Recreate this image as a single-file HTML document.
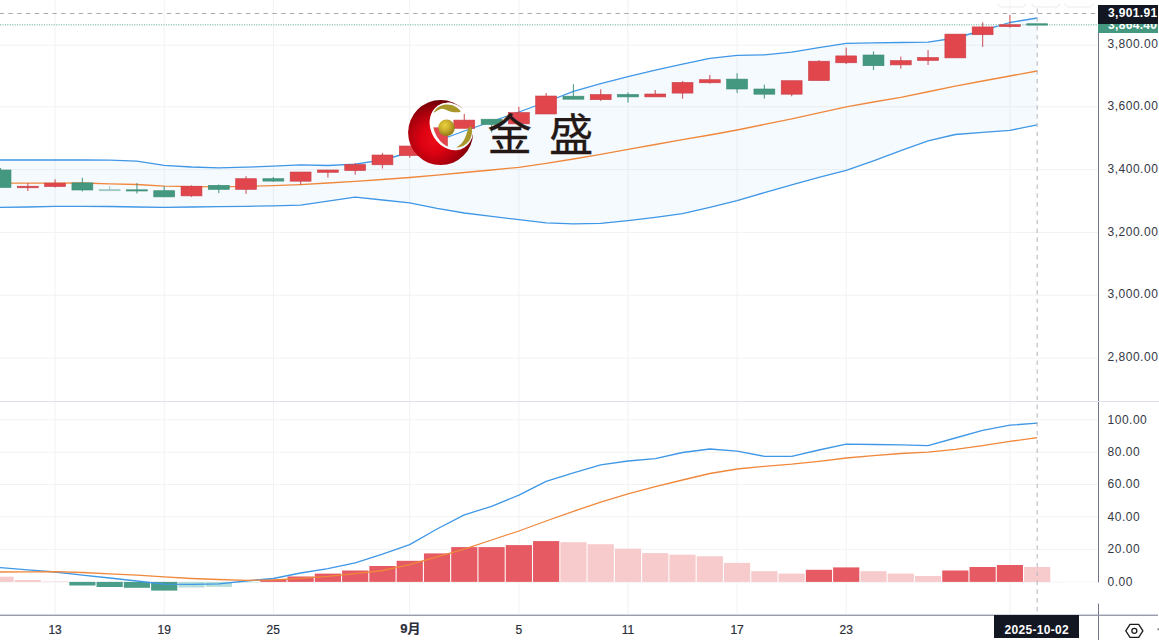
<!DOCTYPE html>
<html lang="zh-CN"><head><meta charset="utf-8"><title>chart</title>
<style>
html,body{margin:0;padding:0;background:#fff;}
body{width:1159px;height:640px;position:relative;overflow:hidden;font-family:"Liberation Sans","Noto Sans CJK SC",sans-serif;color:#131722;}
.pl{position:absolute;left:1107.6px;font-size:12px;letter-spacing:0.5px;line-height:14px;height:14px;white-space:nowrap;color:#343844;}
.tl{-webkit-text-stroke:0.2px #2a2e39;position:absolute;top:622.7px;width:60px;margin-left:-30px;text-align:center;font-size:12px;line-height:14px;white-space:nowrap;color:#2a2e39;}
.tag{position:absolute;color:#fff;font-weight:bold;white-space:nowrap;}
.wm{position:absolute;left:487.4px;top:100.5px;font-family:"Noto Sans CJK SC","Liberation Sans",sans-serif;font-size:44.3px;line-height:62px;color:#231815;letter-spacing:17.4px;white-space:nowrap;-webkit-text-stroke:0.3px #231815;}
</style></head><body>
<svg width="1159" height="640" viewBox="0 0 1159 640" style="position:absolute;left:0;top:0">
<defs>
<radialGradient id="rg" cx="0.4" cy="0.6" r="0.6"><stop offset="0" stop-color="#ec0c18"/><stop offset="0.35" stop-color="#dc0212"/><stop offset="0.7" stop-color="#aa000d"/><stop offset="1" stop-color="#6e0006"/></radialGradient>
<radialGradient id="gg" cx="0.4" cy="0.35" r="0.65"><stop offset="0" stop-color="#ead23c"/><stop offset="0.5" stop-color="#c9ad2c"/><stop offset="1" stop-color="#8f7a1a"/></radialGradient>
<clipPath id="mainclip"><rect x="0" y="0" width="1098" height="401"/></clipPath>
<clipPath id="subclip"><rect x="0" y="402" width="1098" height="212"/></clipPath>
<mask id="cres"><rect x="380" y="80" width="120" height="110" fill="#fff"/><ellipse cx="451.56" cy="126.39" rx="20.47" ry="24.63" transform="rotate(-31.5 451.56 126.39)" fill="#000"/><polygon points="461.8,106.6 470,95 490,100 490,140 473.6,133.5" fill="#000"/></mask>
</defs>
<rect x="54.6" y="0" width="1" height="614" fill="#f2f2f3"/>
<rect x="163.7" y="0" width="1" height="614" fill="#f2f2f3"/>
<rect x="272.8" y="0" width="1" height="614" fill="#f2f2f3"/>
<rect x="409.2" y="0" width="1" height="614" fill="#f2f2f3"/>
<rect x="518.4" y="0" width="1" height="614" fill="#f2f2f3"/>
<rect x="627.5" y="0" width="1" height="614" fill="#f2f2f3"/>
<rect x="736.6" y="0" width="1" height="614" fill="#f2f2f3"/>
<rect x="845.7" y="0" width="1" height="614" fill="#f2f2f3"/>
<rect x="1009.5" y="0" width="1" height="614" fill="#f2f2f3"/>
<rect x="0" y="44.7" width="1098" height="1" fill="#f2f2f3"/>
<rect x="0" y="106.3" width="1098" height="1" fill="#f2f2f3"/>
<rect x="0" y="169.1" width="1098" height="1" fill="#f2f2f3"/>
<rect x="0" y="231.9" width="1098" height="1" fill="#f2f2f3"/>
<rect x="0" y="294.7" width="1098" height="1" fill="#f2f2f3"/>
<rect x="0" y="357.6" width="1098" height="1" fill="#f2f2f3"/>
<rect x="0" y="419.3" width="1098" height="1" fill="#f2f2f3"/>
<rect x="0" y="451.7" width="1098" height="1" fill="#f2f2f3"/>
<rect x="0" y="484.0" width="1098" height="1" fill="#f2f2f3"/>
<rect x="0" y="516.3" width="1098" height="1" fill="#f2f2f3"/>
<rect x="0" y="548.8" width="1098" height="1" fill="#f2f2f3"/>
<rect x="0" y="581.7" width="1098" height="1" fill="#f2f2f3"/>
<path d="M998 3.5 Q998 7 1002.5 7 L1021 7 Q1025.5 7 1025.5 3.5" fill="none" stroke="#e9ebf0" stroke-width="1"/>
<path d="M1032 3.5 Q1032 7 1036.5 7 L1055 7 Q1059.5 7 1059.5 3.5" fill="none" stroke="#e9ebf0" stroke-width="1"/>
<path d="M1065.3 3.5 Q1065.3 7 1069.8 7 L1088.3 7 Q1092.8 7 1092.8 3.5" fill="none" stroke="#e9ebf0" stroke-width="1"/>
<g clip-path="url(#mainclip)">
<polygon points="-27.0,160 0.5,160 27.8,160 55.1,160 82.4,160 109.7,160.2 136.9,161.2 164.2,165.3 191.5,167 218.8,167.9 246.1,167.2 273.3,166.2 300.6,164.8 327.9,165.5 355.2,164.2 382.5,160 409.7,152.5 437.0,141 464.3,131 491.6,121.5 518.9,112 546.1,102 573.4,91.4 600.7,83.6 628.0,76.7 655.3,70.2 682.5,64.2 709.8,58.3 737.1,55.4 764.4,54.8 791.7,52.1 818.9,47.7 846.2,43.3 873.5,42.9 900.8,42.5 928.1,42.2 955.3,38 982.6,30.5 1009.9,22.5 1037.2,18 1037.2,124.9 1009.9,130.4 982.6,132.3 955.3,134.5 928.1,140.9 900.8,150.6 873.5,160.8 846.2,170.4 818.9,177.3 791.7,184.8 764.4,192.6 737.1,200.6 709.8,207.3 682.5,213.7 655.3,217.4 628.0,220.6 600.7,223.3 573.4,223.9 546.1,222.8 518.9,219.7 491.6,216.3 464.3,213 437.0,208.4 409.7,202.8 382.5,200 355.2,197.2 327.9,201.2 300.6,205.1 273.3,205.8 246.1,206.3 218.8,206.6 191.5,207 164.2,207.4 136.9,207 109.7,206.5 82.4,206.3 55.1,206.3 27.8,207 0.5,207.4 -27.0,207.4" fill="#2196f3" fill-opacity="0.048"/>
<polyline points="-27,160 0.5,160 27.8,160 55.1,160 82.4,160 109.7,160.2 136.9,161.2 164.2,165.3 191.5,167 218.8,167.9 246.1,167.2 273.3,166.2 300.6,164.8 327.9,165.5 355.2,164.2 382.5,160 409.7,152.5 437.0,141 464.3,131 491.6,121.5 518.9,112 546.1,102 573.4,91.4 600.7,83.6 628.0,76.7 655.3,70.2 682.5,64.2 709.8,58.3 737.1,55.4 764.4,54.8 791.7,52.1 818.9,47.7 846.2,43.3 873.5,42.9 900.8,42.5 928.1,42.2 955.3,38 982.6,30.5 1009.9,22.5 1037.2,18" fill="none" stroke="#3f97e6" stroke-width="1.3" stroke-linejoin="round"/>
<polyline points="-27,207.4 0.5,207.4 27.8,207 55.1,206.3 82.4,206.3 109.7,206.5 136.9,207 164.2,207.4 191.5,207 218.8,206.6 246.1,206.3 273.3,205.8 300.6,205.1 327.9,201.2 355.2,197.2 382.5,200 409.7,202.8 437.0,208.4 464.3,213 491.6,216.3 518.9,219.7 546.1,222.8 573.4,223.9 600.7,223.3 628.0,220.6 655.3,217.4 682.5,213.7 709.8,207.3 737.1,200.6 764.4,192.6 791.7,184.8 818.9,177.3 846.2,170.4 873.5,160.8 900.8,150.6 928.1,140.9 955.3,134.5 982.6,132.3 1009.9,130.4 1037.2,124.9" fill="none" stroke="#3f97e6" stroke-width="1.3" stroke-linejoin="round"/>
<polyline points="-27,183.1 0.5,183.1 27.8,183.1 55.1,183.1 82.4,183 109.7,183.8 136.9,184.5 164.2,186.2 191.5,186.7 218.8,186.9 246.1,186.4 273.3,185.6 300.6,184.6 327.9,183 355.2,181.3 382.5,179.5 409.7,177.5 437.0,175.2 464.3,172.5 491.6,170 518.9,167.3 546.1,163.4 573.4,159 600.7,154.3 628.0,149.3 655.3,144.5 682.5,139.7 709.8,135 737.1,130 764.4,124.4 791.7,118.8 818.9,112.8 846.2,106.8 873.5,102 900.8,97.3 928.1,91.75 955.3,86.2 982.6,81 1009.9,76 1037.2,71" fill="none" stroke="#f0883c" stroke-width="1.3" stroke-linejoin="round"/>
<line x1="0" y1="24.8" x2="1098" y2="24.8" stroke="#98c8bb" stroke-width="1.6" stroke-dasharray="1.1 1.34"/>
<g>
<rect x="-0.06" y="168" width="1.2" height="19.50" fill="#3b8d76" opacity="0.8"/>
<rect x="-9.91" y="170" width="20.9" height="17.50" fill="#44987f" stroke="#3b8d76" stroke-width="0.6"/>
</g>
<g>
<rect x="27.22" y="183.1" width="1.2" height="7.90" fill="#c8414a" opacity="0.8"/>
<rect x="17.37" y="186.2" width="20.9" height="1.60" fill="#e0464b" stroke="#c8414a" stroke-width="0.6"/>
</g>
<g>
<rect x="54.50" y="179.3" width="1.2" height="8.20" fill="#c8414a" opacity="0.8"/>
<rect x="44.65" y="183.1" width="20.9" height="3.50" fill="#e0464b" stroke="#c8414a" stroke-width="0.6"/>
</g>
<g>
<rect x="81.78" y="177.9" width="1.2" height="13.50" fill="#3b8d76" opacity="0.8"/>
<rect x="71.93" y="182.9" width="20.9" height="7.10" fill="#44987f" stroke="#3b8d76" stroke-width="0.6"/>
</g>
<g opacity="0.5">
<rect x="109.06" y="186.2" width="1.2" height="4.80" fill="#3b8d76" opacity="0.8"/>
<rect x="99.21" y="189.6" width="20.9" height="1.20" fill="#44987f" stroke="#3b8d76" stroke-width="0.6"/>
</g>
<g>
<rect x="136.34" y="183.1" width="1.2" height="10.40" fill="#3b8d76" opacity="0.8"/>
<rect x="126.49" y="189.8" width="20.9" height="1.20" fill="#44987f" stroke="#3b8d76" stroke-width="0.6"/>
</g>
<g>
<rect x="163.62" y="186.2" width="1.2" height="10.70" fill="#3b8d76" opacity="0.8"/>
<rect x="153.77" y="190.7" width="20.9" height="6.20" fill="#44987f" stroke="#3b8d76" stroke-width="0.6"/>
</g>
<g>
<rect x="190.90" y="185.3" width="1.2" height="11.60" fill="#c8414a" opacity="0.8"/>
<rect x="181.05" y="186.2" width="20.9" height="9.70" fill="#e0464b" stroke="#c8414a" stroke-width="0.6"/>
</g>
<g>
<rect x="218.18" y="184.5" width="1.2" height="8.60" fill="#3b8d76" opacity="0.8"/>
<rect x="208.33" y="185.3" width="20.9" height="4.10" fill="#44987f" stroke="#3b8d76" stroke-width="0.6"/>
</g>
<g>
<rect x="245.46" y="176.2" width="1.2" height="17.60" fill="#c8414a" opacity="0.8"/>
<rect x="235.61" y="178.7" width="20.9" height="10.70" fill="#e0464b" stroke="#c8414a" stroke-width="0.6"/>
</g>
<g>
<rect x="272.74" y="177" width="1.2" height="4.70" fill="#3b8d76" opacity="0.8"/>
<rect x="262.89" y="178.7" width="20.9" height="2.40" fill="#44987f" stroke="#3b8d76" stroke-width="0.6"/>
</g>
<g>
<rect x="300.02" y="172" width="1.2" height="12.60" fill="#c8414a" opacity="0.8"/>
<rect x="290.17" y="172" width="20.9" height="9.20" fill="#e0464b" stroke="#c8414a" stroke-width="0.6"/>
</g>
<g>
<rect x="327.30" y="170" width="1.2" height="7.50" fill="#c8414a" opacity="0.8"/>
<rect x="317.45" y="170" width="20.9" height="2.30" fill="#e0464b" stroke="#c8414a" stroke-width="0.6"/>
</g>
<g>
<rect x="354.58" y="162.9" width="1.2" height="11.80" fill="#c8414a" opacity="0.8"/>
<rect x="344.73" y="164.4" width="20.9" height="6.20" fill="#e0464b" stroke="#c8414a" stroke-width="0.6"/>
</g>
<g>
<rect x="381.86" y="152.8" width="1.2" height="15.70" fill="#c8414a" opacity="0.8"/>
<rect x="372.01" y="155" width="20.9" height="9.80" fill="#e0464b" stroke="#c8414a" stroke-width="0.6"/>
</g>
<g>
<rect x="409.14" y="146" width="1.2" height="11.80" fill="#c8414a" opacity="0.8"/>
<rect x="399.29" y="146" width="20.9" height="9.60" fill="#e0464b" stroke="#c8414a" stroke-width="0.6"/>
</g>
<g>
<rect x="426.57" y="127.8" width="20.9" height="18.40" fill="#e0464b" stroke="#c8414a" stroke-width="0.6"/>
</g>
<g>
<rect x="463.70" y="113.9" width="1.2" height="14.40" fill="#c8414a" opacity="0.8"/>
<rect x="453.85" y="120.1" width="20.9" height="8.20" fill="#e0464b" stroke="#c8414a" stroke-width="0.6"/>
</g>
<g>
<rect x="490.98" y="119.2" width="1.2" height="13.30" fill="#3b8d76" opacity="0.8"/>
<rect x="481.13" y="119.2" width="20.9" height="5.30" fill="#44987f" stroke="#3b8d76" stroke-width="0.6"/>
</g>
<g>
<rect x="518.26" y="106.8" width="1.2" height="17.10" fill="#c8414a" opacity="0.8"/>
<rect x="508.41" y="112.5" width="20.9" height="11.40" fill="#e0464b" stroke="#c8414a" stroke-width="0.6"/>
</g>
<g>
<rect x="545.54" y="93" width="1.2" height="21.00" fill="#c8414a" opacity="0.8"/>
<rect x="535.69" y="96" width="20.9" height="18.00" fill="#e0464b" stroke="#c8414a" stroke-width="0.6"/>
</g>
<g>
<rect x="572.82" y="84.2" width="1.2" height="15.00" fill="#3b8d76" opacity="0.8"/>
<rect x="562.97" y="96.2" width="20.9" height="3.00" fill="#44987f" stroke="#3b8d76" stroke-width="0.6"/>
</g>
<g>
<rect x="600.10" y="89.3" width="1.2" height="11.60" fill="#c8414a" opacity="0.8"/>
<rect x="590.25" y="94.5" width="20.9" height="5.20" fill="#e0464b" stroke="#c8414a" stroke-width="0.6"/>
</g>
<g>
<rect x="627.38" y="92.3" width="1.2" height="10.30" fill="#3b8d76" opacity="0.8"/>
<rect x="617.53" y="94.5" width="20.9" height="2.40" fill="#44987f" stroke="#3b8d76" stroke-width="0.6"/>
</g>
<g>
<rect x="654.66" y="90" width="1.2" height="6.90" fill="#c8414a" opacity="0.8"/>
<rect x="644.81" y="94" width="20.9" height="2.90" fill="#e0464b" stroke="#c8414a" stroke-width="0.6"/>
</g>
<g>
<rect x="681.94" y="81" width="1.2" height="17.70" fill="#c8414a" opacity="0.8"/>
<rect x="672.09" y="82.4" width="20.9" height="10.70" fill="#e0464b" stroke="#c8414a" stroke-width="0.6"/>
</g>
<g>
<rect x="709.22" y="75" width="1.2" height="8.60" fill="#c8414a" opacity="0.8"/>
<rect x="699.37" y="79.7" width="20.9" height="3.10" fill="#e0464b" stroke="#c8414a" stroke-width="0.6"/>
</g>
<g>
<rect x="736.50" y="73.2" width="1.2" height="19.70" fill="#3b8d76" opacity="0.8"/>
<rect x="726.65" y="79.1" width="20.9" height="9.90" fill="#44987f" stroke="#3b8d76" stroke-width="0.6"/>
</g>
<g>
<rect x="763.78" y="84.7" width="1.2" height="13.80" fill="#3b8d76" opacity="0.8"/>
<rect x="753.93" y="89" width="20.9" height="5.20" fill="#44987f" stroke="#3b8d76" stroke-width="0.6"/>
</g>
<g>
<rect x="791.06" y="80.7" width="1.2" height="15.60" fill="#c8414a" opacity="0.8"/>
<rect x="781.21" y="80.7" width="20.9" height="13.50" fill="#e0464b" stroke="#c8414a" stroke-width="0.6"/>
</g>
<g>
<rect x="818.34" y="60.2" width="1.2" height="20.40" fill="#c8414a" opacity="0.8"/>
<rect x="808.49" y="61.2" width="20.9" height="19.40" fill="#e0464b" stroke="#c8414a" stroke-width="0.6"/>
</g>
<g>
<rect x="845.62" y="47.6" width="1.2" height="16.40" fill="#c8414a" opacity="0.8"/>
<rect x="835.77" y="55.9" width="20.9" height="6.90" fill="#e0464b" stroke="#c8414a" stroke-width="0.6"/>
</g>
<g>
<rect x="872.90" y="51.4" width="1.2" height="18.60" fill="#3b8d76" opacity="0.8"/>
<rect x="863.05" y="55" width="20.9" height="10.70" fill="#44987f" stroke="#3b8d76" stroke-width="0.6"/>
</g>
<g>
<rect x="900.18" y="56.6" width="1.2" height="12.10" fill="#c8414a" opacity="0.8"/>
<rect x="890.33" y="60.6" width="20.9" height="4.30" fill="#e0464b" stroke="#c8414a" stroke-width="0.6"/>
</g>
<g>
<rect x="927.46" y="50" width="1.2" height="15.00" fill="#c8414a" opacity="0.8"/>
<rect x="917.61" y="57.5" width="20.9" height="3.00" fill="#e0464b" stroke="#c8414a" stroke-width="0.6"/>
</g>
<g>
<rect x="944.89" y="34.1" width="20.9" height="23.80" fill="#e0464b" stroke="#c8414a" stroke-width="0.6"/>
</g>
<g>
<rect x="982.02" y="22.25" width="1.2" height="24.65" fill="#c8414a" opacity="0.8"/>
<rect x="972.17" y="26.9" width="20.9" height="7.85" fill="#e0464b" stroke="#c8414a" stroke-width="0.6"/>
</g>
<g>
<rect x="1009.30" y="15" width="1.2" height="12.75" fill="#c8414a" opacity="0.8"/>
<rect x="999.45" y="24.75" width="20.9" height="1.85" fill="#e0464b" stroke="#c8414a" stroke-width="0.6"/>
</g>
<g>
<rect x="1026.73" y="23.75" width="20.9" height="1.35" fill="#44987f" stroke="#3b8d76" stroke-width="0.6"/>
</g>
</g>
<line x1="-0.4" y1="13.5" x2="1098" y2="13.5" stroke="#a9aaae" stroke-width="1.2" stroke-dasharray="4.3 4.5"/>
<g clip-path="url(#subclip)">
<rect x="-12.56" y="576.70" width="26.2" height="5.20" fill="#f7cacc"/>
<rect x="14.72" y="580.00" width="26.2" height="1.90" fill="#f7cacc"/>
<rect x="42.00" y="581.00" width="26.2" height="0.90" fill="#fbe3e4"/>
<rect x="69.28" y="581.90" width="26.2" height="3.60" fill="#4a9d89"/>
<rect x="96.56" y="581.90" width="26.2" height="5.10" fill="#4a9d89"/>
<rect x="123.84" y="581.90" width="26.2" height="5.90" fill="#4a9d89"/>
<rect x="151.12" y="581.90" width="26.2" height="8.70" fill="#4a9d89"/>
<rect x="178.40" y="581.90" width="26.2" height="5.60" fill="#b5dfd8"/>
<rect x="205.68" y="581.90" width="26.2" height="4.90" fill="#b5dfd8"/>
<rect x="232.96" y="581.90" width="26.2" height="1.10" fill="#dcefeb"/>
<rect x="260.24" y="579.50" width="26.2" height="2.40" fill="#e55a63"/>
<rect x="287.52" y="576.50" width="26.2" height="5.40" fill="#e55a63"/>
<rect x="314.80" y="573.60" width="26.2" height="8.30" fill="#e55a63"/>
<rect x="342.08" y="570.50" width="26.2" height="11.40" fill="#e55a63"/>
<rect x="369.36" y="566.00" width="26.2" height="15.90" fill="#e55a63"/>
<rect x="396.64" y="560.80" width="26.2" height="21.10" fill="#e55a63"/>
<rect x="423.92" y="553.40" width="26.2" height="28.50" fill="#e55a63"/>
<rect x="451.20" y="547.10" width="26.2" height="34.80" fill="#e55a63"/>
<rect x="478.48" y="547.10" width="26.2" height="34.80" fill="#e55a63"/>
<rect x="505.76" y="545.10" width="26.2" height="36.80" fill="#e55a63"/>
<rect x="533.04" y="541.10" width="26.2" height="40.80" fill="#e55a63"/>
<rect x="560.32" y="542.20" width="26.2" height="39.70" fill="#f7cacc"/>
<rect x="587.60" y="544.20" width="26.2" height="37.70" fill="#f7cacc"/>
<rect x="614.88" y="548.70" width="26.2" height="33.20" fill="#f7cacc"/>
<rect x="642.16" y="553.10" width="26.2" height="28.80" fill="#f7cacc"/>
<rect x="669.44" y="554.70" width="26.2" height="27.20" fill="#f7cacc"/>
<rect x="696.72" y="556.30" width="26.2" height="25.60" fill="#f7cacc"/>
<rect x="724.00" y="562.90" width="26.2" height="19.00" fill="#f7cacc"/>
<rect x="751.28" y="571.20" width="26.2" height="10.70" fill="#f7cacc"/>
<rect x="778.56" y="573.60" width="26.2" height="8.30" fill="#f7cacc"/>
<rect x="805.84" y="569.80" width="26.2" height="12.10" fill="#e55a63"/>
<rect x="833.12" y="567.40" width="26.2" height="14.50" fill="#e55a63"/>
<rect x="860.40" y="571.20" width="26.2" height="10.70" fill="#f7cacc"/>
<rect x="887.68" y="573.60" width="26.2" height="8.30" fill="#f7cacc"/>
<rect x="914.96" y="576.00" width="26.2" height="5.90" fill="#f7cacc"/>
<rect x="942.24" y="570.50" width="26.2" height="11.40" fill="#e55a63"/>
<rect x="969.52" y="567.00" width="26.2" height="14.90" fill="#e55a63"/>
<rect x="996.80" y="565.00" width="26.2" height="16.90" fill="#e55a63"/>
<rect x="1024.08" y="567.00" width="26.2" height="14.90" fill="#f7cacc"/>
<polyline points="-27,567.6 0.5,567.6 27.8,569.8 55.1,572 82.4,575.1 109.7,578 136.9,581 164.2,584.2 191.5,584.4 218.8,583.9 246.1,581 273.3,578.5 300.6,573 327.9,568.7 355.2,562.9 382.5,554.2 409.7,544.6 437.0,529 464.3,514.9 491.6,506.3 518.9,495.2 546.1,481.4 573.4,472.8 600.7,464.8 628.0,461 655.3,458.6 682.5,452.5 709.8,449 737.1,451.1 764.4,456.3 791.7,456.3 818.9,450 846.2,444.2 873.5,444.5 900.8,444.9 928.1,445.6 955.3,438 982.6,430.4 1009.9,425.2 1037.2,423.1" fill="none" stroke="#3f97e6" stroke-width="1.3" stroke-linejoin="round"/>
<polyline points="-27,572 0.5,572 27.8,571.8 55.1,571.7 82.4,572.5 109.7,573.8 136.9,575.1 164.2,576.9 191.5,578.5 218.8,579.5 246.1,580.3 273.3,580 300.6,578.3 327.9,576.3 355.2,573.6 382.5,570.5 409.7,564.6 437.0,556.9 464.3,549.2 491.6,540 518.9,531 546.1,521 573.4,511.3 600.7,502.1 628.0,493.8 655.3,486.6 682.5,480 709.8,473.5 737.1,469 764.4,466.3 791.7,464.2 818.9,461.4 846.2,458 873.5,455.6 900.8,453.5 928.1,452.1 955.3,449.4 982.6,445.6 1009.9,441.4 1037.2,437.6" fill="none" stroke="#f0883c" stroke-width="1.3" stroke-linejoin="round"/>
</g>
<line x1="1037.2" y1="8.5" x2="1037.2" y2="614" stroke="#b9bbc3" stroke-width="1.1" stroke-dasharray="4.4 4.4"/>
<rect x="0" y="401" width="1159" height="1" fill="#dfe2ea"/>
<rect x="1098" y="33" width="1" height="607" fill="#70758a"/>
<rect x="0" y="401" width="1159" height="1" fill="#dfe2ea"/>
<rect x="1062" y="582.4" width="44" height="21.2" fill="#fff"/>
<rect x="0" y="614.6" width="1158" height="1.3" fill="#8e93a6"/>
<g>
<circle cx="440.6" cy="132.6" r="32.5" fill="url(#rg)" mask="url(#cres)"/>
<mask id="hl"><rect x="380" y="80" width="120" height="110" fill="#000"/><ellipse cx="451.56" cy="126.39" rx="20.7" ry="24.9" transform="rotate(-31.5 451.56 126.39)" fill="#fff"/><ellipse cx="454.2" cy="126.2" rx="20.2" ry="24.2" transform="rotate(-31.5 454.2 126.2)" fill="#000"/></mask>
<rect x="425" y="100" width="40" height="55" fill="#fff" mask="url(#hl)"/>
<circle cx="446.5" cy="127.8" r="8.3" fill="url(#gg)"/>
<path d="M433.6 112.8 C435 109.5 436.8 107.8 438.8 106.7 C441.5 105 444.3 104.4 447.2 104.4 C450.3 104.4 453.2 105.2 455.6 106.7 C457.6 107.9 459.3 109.4 460.8 111.4 C459.5 112.2 458 112.5 456.6 112.3 C454.6 112.3 452.8 112.2 450.9 111.7 C449 111.1 447.2 110.2 445.3 109.5 C443.8 108.9 442.2 108.7 440.6 109 C438.9 109.4 437.3 110.3 435.9 111.4 C435.1 112 434.4 112.5 433.6 112.8 Z" fill="#a8962a"/>
<path d="M471.1 125.9 C471.9 128 472.2 130.2 472 132.5 C471.8 134.8 471.2 137 470.2 139 C469 141.3 467.2 143.2 465 144.7 C462.4 146.4 459.3 147.3 456.1 147.5 C458 146.5 459.7 145.2 461.25 143.75 C462.8 142.1 464.1 140.2 465 138.1 C465.8 136.3 466.4 134.4 466.9 132.5 C467.4 130.9 468 129.3 468.75 127.8 C469.4 126.9 470.2 126.2 471.1 125.9 Z" fill="#a8962a"/>
</g>
</svg>
<div class="wm">金盛</div>
<div class="pl" style="top:36.5px">3,800.00</div>
<div class="pl" style="top:99.3px">3,600.00</div>
<div class="pl" style="top:162px">3,400.00</div>
<div class="pl" style="top:224.5px">3,200.00</div>
<div class="pl" style="top:287.1px">3,000.00</div>
<div class="pl" style="top:350.1px">2,800.00</div>
<div class="pl" style="top:412.8px">100.00</div>
<div class="pl" style="top:444.7px">80.00</div>
<div class="pl" style="top:476.8px">60.00</div>
<div class="pl" style="top:509.6px">40.00</div>
<div class="pl" style="top:542.3px">20.00</div>
<div class="pl" style="top:575.1px">0.00</div>
<div class="tag" style="left:1098px;top:24px;width:60px;height:9.3px;background:#44987f;overflow:hidden;"><span style="position:absolute;left:10px;top:-6px;font-size:12px;letter-spacing:0.32px;line-height:14px;">3,864.40</span></div>
<div class="tag" style="left:1098px;top:5px;width:60px;height:19px;background:#131722;"><span style="position:absolute;left:10px;top:1.2px;font-size:12px;letter-spacing:0.35px;line-height:14px;">3,901.91</span></div>
<div class="tl" style="left:55.1px">13</div>
<div class="tl" style="left:164.2px">19</div>
<div class="tl" style="left:273.3px">25</div>
<div class="tl" style="left:410.3px;font-weight:bold;font-size:13px;margin-top:-0.3px">9月</div>
<div class="tl" style="left:518.9px">5</div>
<div class="tl" style="left:628px">11</div>
<div class="tl" style="left:737.1px">17</div>
<div class="tl" style="left:846.2px">23</div>
<div class="tag" style="left:994.4px;top:615px;width:84.3px;height:22.5px;background:#131722;"><span style="position:absolute;left:0.5px;right:0;top:7.6px;text-align:center;font-size:12px;letter-spacing:0.33px;line-height:14px;">2025-10-02</span></div>
<svg width="40" height="24" viewBox="1120 617 40 24" style="position:absolute;left:1120px;top:617px">
<path d="M1125.8 630.8 L1130 624.3 L1138.7 624.3 L1142.9 630.8 L1138.7 637.3 L1130 637.3 Z" fill="none" stroke="#1c1c1c" stroke-width="1.3" stroke-linejoin="round"/>
<circle cx="1134.35" cy="630.8" r="2.5" fill="none" stroke="#1c1c1c" stroke-width="1.3"/>
<rect x="1157.6" y="628.4" width="1.2" height="1.8" fill="#555"/>
</svg>
</body></html>
